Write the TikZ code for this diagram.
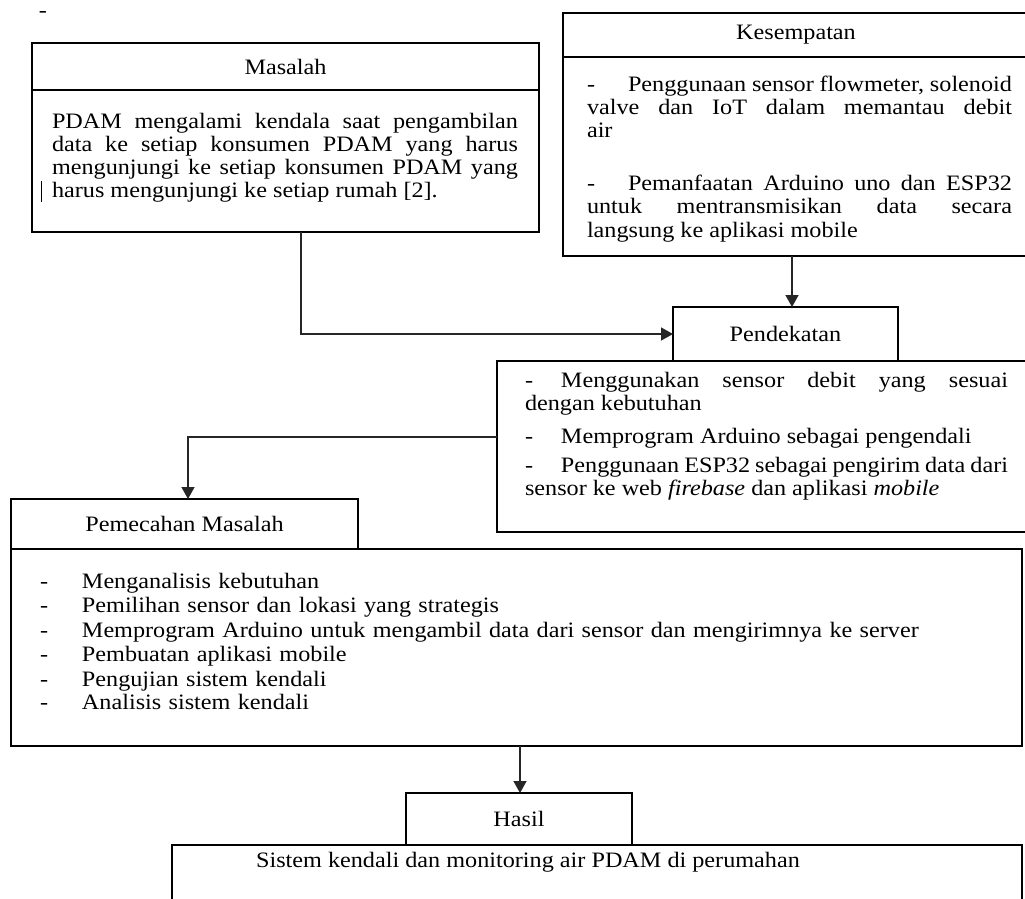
\documentclass[tikz,border=0pt]{standalone}
\usepackage{fontspec}
\setmainfont{Liberation Serif}[FakeStretch=1.1]
\usetikzlibrary{arrows.meta}
\newcommand{\fs}{\fontsize{22}{23.3}\selectfont}
\newcommand{\dashitem}[1]{\makebox[#1][l]{-}}
\tikzset{
  box/.style={draw=black, line width=2.4pt, inner sep=0pt, outer sep=0pt, anchor=north west, font=\fs},
  conn/.style={draw=black!85, line width=1.4pt, -{Triangle[width=13pt,length=12pt]}},
  txt/.style={inner sep=0pt, outer sep=0pt, anchor=base west, align=justify, font=\fs},
}
\begin{document}
\begin{tikzpicture}[x=1pt,y=-1pt]
\useasboundingbox (0,0) rectangle (1025,898);
\fill[white] (0,0) rectangle (1025,898);
\clip (0,0) rectangle (1025,898);

% stray marks
\node[anchor=base, inner sep=0pt, font=\fs] (stray) at (43,17) {-};
\draw[line width=1pt] (41,181) -- (41,202);

% Masalah
\node[box, minimum width=507pt, minimum height=47pt] (mhead) at (32,43) {Masalah};
\node[box, minimum width=507pt, minimum height=142pt] (mbody) at (32,90) {};
\node[txt, text width=466pt] (mtext) at (52,128) {\hyphenpenalty=10000
PDAM mengalami kendala saat pengambilan\linebreak data ke setiap konsumen PDAM yang harus\linebreak mengunjungi ke setiap konsumen PDAM yang\linebreak harus mengunjungi ke setiap rumah [2].};

% Kesempatan
\node[box, minimum width=466pt, minimum height=44pt] (khead) at (563,13) {Kesempatan};
\node[box, minimum width=466pt, minimum height=199pt] (kbody) at (563,57) {};
\node[txt, text width=425pt] (k1) at (587,91) {\fontsize{22}{29.5}\selectfont\hangindent=41pt\hangafter=1\noindent\dashitem{41pt}Penggunaan sensor flowmeter, solenoid\linebreak valve dan IoT dalam memantau debit\linebreak air};
\node[txt, text width=425pt] (k2) at (587,190.5) {\fontsize{22}{25}\selectfont\hangindent=41pt\hangafter=1\noindent\dashitem{41pt}Pemanfaatan Arduino uno dan ESP32\linebreak untuk mentransmisikan data secara\linebreak langsung ke aplikasi mobile};

% Pendekatan
\node[box, minimum width=540pt, minimum height=171pt] (pbody) at (497,361) {};
\node[box, minimum width=225pt, minimum height=54pt] (phead) at (673,307) {Pendekatan};
\node[txt, text width=483pt] (p1) at (525,387) {\fontsize{22}{26}\selectfont\hangindent=36pt\hangafter=1\noindent\dashitem{36pt}Menggunakan sensor debit yang sesuai\linebreak dengan kebutuhan};
\node[txt, text width=483pt] (p2) at (525,443) {\noindent\dashitem{36pt}Memprogram Arduino sebagai pengendali};
\node[txt, text width=483pt] (p3) at (525,472) {\fontsize{22}{26}\selectfont\hangindent=36pt\hangafter=1\noindent\dashitem{36pt}Penggunaan ESP32 sebagai pengirim data dari\linebreak sensor ke web \textit{firebase} dan aplikasi \textit{mobile}};

% Pemecahan Masalah
\node[box, minimum width=347pt, minimum height=50pt] (pmhead) at (11,499) {Pemecahan Masalah};
\node[box, minimum width=1011pt, minimum height=197pt] (pmbody) at (11,549) {};
\node[txt, text width=960pt, align=left] (pmtext) at (40,588) {\fontsize{22}{24.5}\selectfont
\dashitem{42pt}Menganalisis kebutuhan\\
\dashitem{42pt}Pemilihan sensor dan lokasi yang strategis\\
\dashitem{42pt}Memprogram Arduino untuk mengambil data dari sensor dan mengirimnya ke server\\
\dashitem{42pt}Pembuatan aplikasi mobile\\
\dashitem{42pt}Pengujian sistem kendali\\
\dashitem{42pt}Analisis sistem kendali};

% Hasil
\node[box, minimum width=850pt, minimum height=70pt] (hbody) at (172,845) {};
\node[box, minimum width=226pt, minimum height=52pt] (hhead) at (406,793) {Hasil};
\node[anchor=base, inner sep=0pt, font=\fs] (htext) at (528,867) {Sistem kendali dan monitoring air PDAM di perumahan};

% connectors
\coordinate (ka) at ([xshift=6.5pt]phead.north);
\coordinate (pa) at ([yshift=9.5pt]pbody.west);
\coordinate (pb) at ([xshift=3.5pt]pmhead.north);
\coordinate (ha) at ([xshift=1pt]hhead.north);
\draw[conn] ([xshift=15.5pt]mbody.south) |- (phead.west);
\draw[conn] (ka |- kbody.south) -- (ka);
\draw[conn] (pa) -| (pb);
\draw[conn] (ha |- pmbody.south) -- (ha);
\end{tikzpicture}
\end{document}
